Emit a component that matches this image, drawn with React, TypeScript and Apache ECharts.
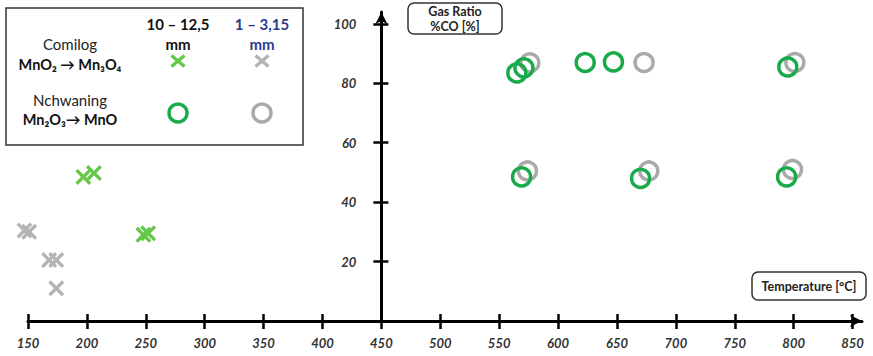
import React, { useEffect, useRef } from "react";
import * as echarts from "echarts";

// ---- data ----
const xTicks = [150, 200, 250, 300, 350, 400, 450, 500, 550, 600, 650, 700, 750, 800, 850];
const yTicks = [20, 40, 60, 80, 100];

// Comilog MnO2 -> Mn3O4, 10 - 12,5 mm (green cross)
const comilogCoarseT = [197, 206, 248, 252];
const comilogCoarseCO = [48.5, 49.8, 29, 29.5];
// Comilog, 1 - 3,15 mm (grey cross)
const comilogFineT = [147, 151, 168, 174, 174];
const comilogFineCO = [30.5, 30, 20.5, 20.5, 11];
// Nchwaning Mn2O3 -> MnO, 10 - 12,5 mm (green ring)
const nchCoarseT = [565, 571, 623, 647, 795, 569, 670, 794];
const nchCoarseCO = [83.5, 85.2, 87, 87.2, 85.5, 48.5, 48, 48.5];
// Nchwaning, 1 - 3,15 mm (grey ring)
const nchFineT = [576, 673, 801, 574, 677, 799];
const nchFineCO = [86.9, 87, 87, 50.5, 50.5, 51];

const X_MIN = 150;
const X_MAX = 858;
const X_CROSS = 450;
const Y_MAX = 104;

const W = 873;
const H = 356;
const GRID_LEFT = 28;
const GRID_RIGHT = 11;
const GRID_TOP = 12;
const GRID_BOTTOM = 35;

const GREEN_X = "#66c84a";
const GREY_X = "#b4b4b4";
const GREEN_O = "#19aa4a";
const GREY_O = "#aaaaaa";
const NAVY = "#2b3a8c";
const FONT = "Lato, 'Open Sans', sans-serif";

const CROSS = "path://M0,3 L3,0 L10,7 L17,0 L20,3 L13,10 L20,17 L17,20 L10,13 L3,20 L0,17 L7,10 Z";

const zip = (a: number[], b: number[]) => a.map((v, i) => [v, b[i]]);

export default function App() {
  const ref = useRef<HTMLDivElement>(null);
  useEffect(() => {
    if (!ref.current) return;
    const chart = echarts.init(ref.current, undefined, { renderer: "svg" });
    const gridW = W - GRID_LEFT - GRID_RIGHT;
    const yOffset = -((X_CROSS - X_MIN) * gridW) / (X_MAX - X_MIN);

    const axisLabel = {
      fontFamily: FONT,
      fontStyle: "italic",
      fontWeight: "bold",
      fontSize: 13,
      color: "#333",
    };

    const legendText = (x: number, y: number, text: string, bold: boolean, color = "#222", size = 13) => ({
      type: "text",
      x,
      y,
      style: {
        text,
        fill: color,
        font: `${bold ? "bold " : ""}${size}px ${FONT}`,
        align: "center",
        verticalAlign: "middle",
      },
    });
    const legendCross = (cx: number, cy: number, color: string) => ({
      type: "group",
      x: cx,
      y: cy,
      children: [
        { type: "line", shape: { x1: -6.5, y1: -5.5, x2: 6.5, y2: 5.5 }, style: { stroke: color, lineWidth: 3.4 } },
        { type: "line", shape: { x1: -6.5, y1: 5.5, x2: 6.5, y2: -5.5 }, style: { stroke: color, lineWidth: 3.4 } },
      ],
    });
    const legendRing = (cx: number, cy: number, color: string) => ({
      type: "circle",
      shape: { cx, cy, r: 9 },
      style: { fill: "none", stroke: color, lineWidth: 3.5 },
    });

    chart.setOption({
      animation: false,
      grid: { left: GRID_LEFT, right: GRID_RIGHT, top: GRID_TOP, bottom: GRID_BOTTOM },
      xAxis: [
        {
          type: "value",
          min: X_MIN,
          max: X_MAX,
          position: "bottom",
          axisLine: {
            show: true,
            onZero: false,
            symbol: ["none", "arrow"],
            symbolSize: [9, 12],
            lineStyle: { color: "#000", width: 3 },
          },
          axisTick: { show: true, length: 8, customValues: xTicks, lineStyle: { color: "#000", width: 2.5 } },
          axisLabel: { ...axisLabel, margin: 15, customValues: xTicks },
          splitLine: { show: false },
        },
        {
          type: "value",
          min: X_MIN,
          max: X_MAX,
          position: "bottom",
          axisLine: { show: false, onZero: false },
          axisTick: { show: true, inside: true, length: 7, customValues: xTicks, lineStyle: { color: "#000", width: 2.5 } },
          axisLabel: { show: false },
          splitLine: { show: false },
        },
      ],
      yAxis: [
        {
          type: "value",
          min: 0,
          max: Y_MAX,
          position: "left",
          offset: yOffset,
          axisLine: {
            show: true,
            onZero: false,
            symbol: ["none", "arrow"],
            symbolSize: [9, 12],
            lineStyle: { color: "#000", width: 3 },
          },
          axisTick: { show: true, length: 8, customValues: yTicks, lineStyle: { color: "#000", width: 2.5 } },
          axisLabel: { ...axisLabel, margin: 25, customValues: yTicks },
          splitLine: { show: false },
        },
        {
          type: "value",
          min: 0,
          max: Y_MAX,
          position: "left",
          offset: yOffset,
          axisLine: { show: false, onZero: false },
          axisTick: { show: true, inside: true, length: 7, customValues: yTicks, lineStyle: { color: "#000", width: 2.5 } },
          axisLabel: { show: false },
          splitLine: { show: false },
        },
      ],
      series: [
        {
          name: "Comilog 1 – 3,15 mm",
          type: "scatter",
          clip: false,
          symbol: CROSS,
          symbolSize: 16,
          itemStyle: { color: GREY_X, opacity: 1 },
          data: zip(comilogFineT, comilogFineCO),
        },
        {
          name: "Comilog 10 – 12,5 mm",
          type: "scatter",
          clip: false,
          symbol: CROSS,
          symbolSize: 16,
          itemStyle: { color: GREEN_X, opacity: 1 },
          data: zip(comilogCoarseT, comilogCoarseCO),
        },
        {
          name: "Nchwaning 1 – 3,15 mm",
          type: "scatter",
          clip: false,
          symbol: "circle",
          symbolSize: 18,
          itemStyle: { color: "rgba(0,0,0,0)", borderColor: GREY_O, borderWidth: 3.5, opacity: 1 },
          data: zip(nchFineT, nchFineCO),
        },
        {
          name: "Nchwaning 10 – 12,5 mm",
          type: "scatter",
          clip: false,
          symbol: "circle",
          symbolSize: 18,
          itemStyle: { color: "rgba(0,0,0,0)", borderColor: GREEN_O, borderWidth: 3.5, opacity: 1 },
          data: zip(nchCoarseT, nchCoarseCO),
        },
      ],
      graphic: [
        // legend box
        {
          type: "rect",
          shape: { x: 6, y: 8, width: 297, height: 137 },
          style: { fill: "#fff", stroke: "#333", lineWidth: 1.5 },
        },
        legendText(178, 24, "10 – 12,5", true, "#111", 15),
        legendText(178, 44, "mm", true, "#111", 15),
        legendText(262, 24, "1 – 3,15", true, NAVY, 15),
        legendText(262, 44, "mm", true, NAVY, 15),
        legendText(70, 44, "Comilog", false, "#222", 15),
        legendText(70, 64, "MnO₂ → Mn₃O₄", true, "#111", 14.5),
        legendText(70, 100, "Nchwaning", false, "#222", 15),
        legendText(70, 119, "Mn₂O₃→ MnO", true, "#111", 14.5),
        legendCross(178, 61, GREEN_X),
        legendCross(262, 61, GREY_X),
        legendRing(178, 113, GREEN_O),
        legendRing(262, 113, GREY_O),
        // axis name boxes
        {
          type: "rect",
          shape: { x: 408, y: 3, width: 94, height: 31, r: 6 },
          style: { fill: "#fff", stroke: "#333", lineWidth: 1.5 },
        },
        legendText(455, 11.5, "Gas Ratio", true, "#222", 12.5),
        legendText(455, 26, "%CO [%]", true, "#222", 12.5),
        {
          type: "rect",
          shape: { x: 752, y: 272, width: 114, height: 28, r: 6 },
          style: { fill: "#fff", stroke: "#333", lineWidth: 1.5 },
        },
        legendText(809, 286.5, "Temperature [°C]", true, "#222", 12.5),
      ],
    });
    return () => chart.dispose();
  }, []);
  return <div ref={ref} style={{ position: "fixed", left: 0, top: 0, width: W, height: H, background: "#fff" }} />;
}
